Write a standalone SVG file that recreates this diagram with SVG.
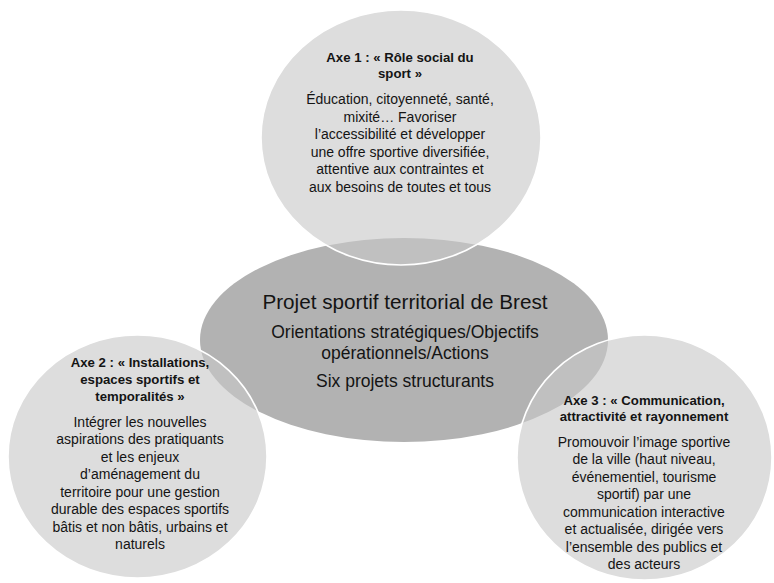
<svg xmlns="http://www.w3.org/2000/svg" width="774" height="583" viewBox="0 0 774 583">
<style>
.bg{fill:#ffffff}
.center{fill:#b2b2b2}
.axe{fill:#c8c8c8;fill-opacity:0.62;stroke:#ffffff;stroke-width:1.6}
text{font-family:"Liberation Sans",Arial,sans-serif;fill:#141414;text-anchor:middle}
.t{font-size:20.7px}
.s{font-size:17.5px}
.h{font-size:13.2px;font-weight:bold}
.b{font-size:14px}
</style>
<rect class="bg" x="0" y="0" width="774" height="583"/>
<g id="centre">
<ellipse class="center" cx="404" cy="340" rx="204" ry="102"/>
<text class="t" x="405" y="309">Projet sportif territorial de Brest</text>
<text class="s" x="405" y="338">Orientations stratégiques/Objectifs</text>
<text class="s" x="405" y="359">opérationnels/Actions</text>
<text class="s" x="405" y="387">Six projets structurants</text>
</g>
<g id="axe1">
<ellipse class="axe" cx="401" cy="137.5" rx="140" ry="127.5"/>
<text class="h" x="400" y="62">Axe 1 : « Rôle social du</text>
<text class="h" x="400" y="77.5">sport »</text>
<text class="b" x="400" y="104">Éducation, citoyenneté, santé,</text>
<text class="b" x="400" y="121.5">mixité… Favoriser</text>
<text class="b" x="400" y="139">l’accessibilité et développer</text>
<text class="b" x="400" y="156.5">une offre sportive diversifiée,</text>
<text class="b" x="400" y="174">attentive aux contraintes et</text>
<text class="b" x="400" y="191.5">aux besoins de toutes et tous</text>
</g>
<g id="axe2">
<ellipse class="axe" cx="137.5" cy="456.5" rx="129.5" ry="121.5"/>
<text class="h" x="140" y="367">Axe 2 : « Installations,</text>
<text class="h" x="140" y="384">espaces sportifs et</text>
<text class="h" x="140" y="400.5">temporalités »</text>
<text class="b" x="140" y="426.5">Intégrer les nouvelles</text>
<text class="b" x="140" y="444">aspirations des pratiquants</text>
<text class="b" x="140" y="461.5">et les enjeux</text>
<text class="b" x="140" y="479">d’aménagement du</text>
<text class="b" x="140" y="496.5">territoire pour une gestion</text>
<text class="b" x="140" y="514">durable des espaces sportifs</text>
<text class="b" x="140" y="531.5">bâtis et non bâtis, urbains et</text>
<text class="b" x="140" y="548.5">naturels</text>
</g>
<g id="axe3">
<ellipse class="axe" cx="644.5" cy="457.5" rx="127.5" ry="122.5"/>
<text class="h" x="644" y="405">Axe 3 : « Communication,</text>
<text class="h" x="644" y="420.5">attractivité et rayonnement</text>
<text class="b" x="644" y="446.5">Promouvoir l’image sportive</text>
<text class="b" x="644" y="464">de la ville (haut niveau,</text>
<text class="b" x="644" y="481.5">événementiel, tourisme</text>
<text class="b" x="644" y="499">sportif) par une</text>
<text class="b" x="644" y="516.5">communication interactive</text>
<text class="b" x="644" y="534">et actualisée, dirigée vers</text>
<text class="b" x="644" y="551.5">l’ensemble des publics et</text>
<text class="b" x="644" y="568.5">des acteurs</text>
</g>
<g id="connectors"></g>
</svg>
